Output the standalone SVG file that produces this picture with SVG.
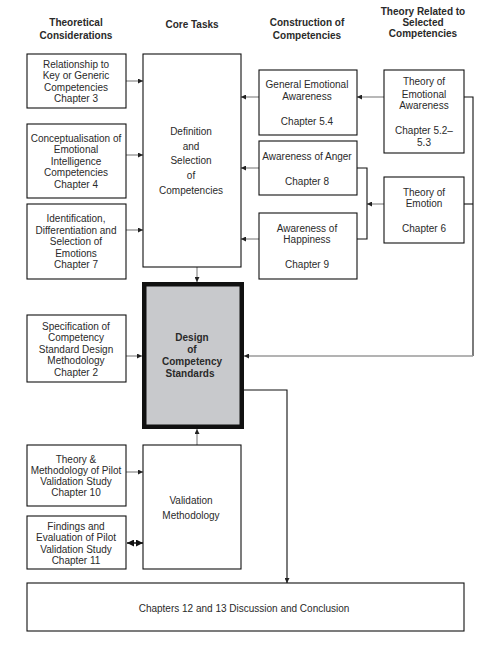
<svg xmlns="http://www.w3.org/2000/svg" width="496" height="649" viewBox="0 0 496 649">
<defs>
<style>
.box{fill:#fff;stroke:#111;stroke-width:1.1}
.t{font-family:"Liberation Sans",Arial,sans-serif;font-size:10px;fill:#2a2a2a;text-anchor:middle}
.h{font-family:"Liberation Sans",Arial,sans-serif;font-size:10px;font-weight:bold;fill:#2a2a2a;text-anchor:middle}
.g{fill:none;stroke:#9a9a9a;stroke-width:1.4}
.k{fill:none;stroke:#111;stroke-width:1.1}
</style>
<marker id="ah" viewBox="0 0 10 10" refX="10" refY="5" markerWidth="5" markerHeight="5" markerUnits="userSpaceOnUse" orient="auto">
<path d="M0,0 L10,5 L0,10 z" fill="#222"/>
</marker>
<marker id="ahb" viewBox="0 0 10 10" refX="10" refY="5" markerWidth="7" markerHeight="7" markerUnits="userSpaceOnUse" orient="auto-start-reverse">
<path d="M0,0 L10,5 L0,10 z" fill="#111"/>
</marker>
</defs>
<rect width="496" height="649" fill="#fff"/>

<g id="headers">
<text class="h" x="76" y="25.5">Theoretical</text>
<text class="h" x="76" y="38.5">Considerations</text>
<text class="h" x="192" y="27.5">Core Tasks</text>
<text class="h" x="307" y="25.5">Construction of</text>
<text class="h" x="307" y="38.5">Competencies</text>
<text class="h" x="423" y="14.5">Theory Related to</text>
<text class="h" x="423" y="25.5">Selected</text>
<text class="h" x="423" y="36.5">Competencies</text>
</g>

<g id="connectors">
<line class="g" x1="126" y1="81" x2="143" y2="81" marker-end="url(#ah)"/>
<line class="g" x1="126" y1="155" x2="143" y2="155" marker-end="url(#ah)"/>
<line class="g" x1="126" y1="230" x2="143" y2="230" marker-end="url(#ah)"/>
<line class="g" x1="259" y1="97" x2="241" y2="97" marker-end="url(#ah)"/>
<line class="g" x1="259" y1="168" x2="241" y2="168" marker-end="url(#ah)"/>
<line class="g" x1="259" y1="239" x2="241" y2="239" marker-end="url(#ah)"/>
<line class="g" x1="384" y1="97" x2="357" y2="97" marker-end="url(#ah)"/>
<line class="g" x1="384" y1="204" x2="367" y2="204" marker-end="url(#ah)"/>
<polyline class="k" points="357,168 367,168 367,239 357,239"/>
<polyline class="k" points="464,97 473,97 473,356"/>
<line class="k" x1="464" y1="204" x2="473" y2="204"/>
<line class="g" x1="473" y1="356" x2="244" y2="356" marker-end="url(#ah)"/>
<line class="g" x1="197" y1="267" x2="197" y2="282" marker-end="url(#ah)"/>
<line class="g" x1="126" y1="356" x2="142" y2="356" marker-end="url(#ah)"/>
<line class="g" x1="197" y1="445" x2="197" y2="429" marker-end="url(#ah)"/>
<polyline class="k" points="244,390 287,390 287,583" marker-end="url(#ah)"/>
<line class="g" x1="126" y1="472" x2="143" y2="472" marker-end="url(#ah)"/>
<line x1="127" y1="543" x2="143" y2="543" stroke="#111" stroke-width="1.5" marker-start="url(#ahb)" marker-end="url(#ahb)"/>
</g>

<g id="n-relationship">
<rect class="box" x="27" y="54" width="99" height="54"/>
<text class="t" x="76" y="67.5">Relationship to</text>
<text class="t" x="76" y="79">Key or Generic</text>
<text class="t" x="76" y="90.5">Competencies</text>
<text class="t" x="76" y="102">Chapter 3</text>
</g>
<g id="n-conceptualisation">
<rect class="box" x="27" y="124" width="99" height="74"/>
<text class="t" x="76" y="141.5">Conceptualisation of</text>
<text class="t" x="76" y="153">Emotional</text>
<text class="t" x="76" y="164.5">Intelligence</text>
<text class="t" x="76" y="176">Competencies</text>
<text class="t" x="76" y="187.5">Chapter 4</text>
</g>
<g id="n-identification">
<rect class="box" x="27" y="204" width="99" height="75"/>
<text class="t" x="76" y="222">Identification,</text>
<text class="t" x="76" y="233.5">Differentiation and</text>
<text class="t" x="76" y="245">Selection of</text>
<text class="t" x="76" y="256.5">Emotions</text>
<text class="t" x="76" y="268">Chapter 7</text>
</g>
<g id="n-specification">
<rect class="box" x="27" y="315" width="99" height="67"/>
<text class="t" x="76" y="329.5">Specification of</text>
<text class="t" x="76" y="340.5">Competency</text>
<text class="t" x="76" y="352.5">Standard Design</text>
<text class="t" x="76" y="363.5">Methodology</text>
<text class="t" x="76" y="375.5">Chapter 2</text>
</g>
<g id="n-theory-method">
<rect class="box" x="27" y="445" width="99" height="61"/>
<text class="t" x="76" y="462.5">Theory &amp;</text>
<text class="t" x="76" y="473.5">Methodology of Pilot</text>
<text class="t" x="76" y="484.5">Validation Study</text>
<text class="t" x="76" y="495.5">Chapter 10</text>
</g>
<g id="n-findings">
<rect class="box" x="27" y="516" width="99" height="53"/>
<text class="t" x="76" y="529.5">Findings and</text>
<text class="t" x="76" y="540.5">Evaluation of Pilot</text>
<text class="t" x="76" y="552.5">Validation Study</text>
<text class="t" x="76" y="563.5">Chapter 11</text>
</g>
<g id="n-definition">
<rect class="box" x="143" y="54" width="98" height="213"/>
<text class="t" x="191" y="134.5">Definition</text>
<text class="t" x="191" y="149.5">and</text>
<text class="t" x="191" y="163.5">Selection</text>
<text class="t" x="191" y="178.5">of</text>
<text class="t" x="191" y="193.5">Competencies</text>
</g>
<g id="n-design">
<rect x="144.25" y="284.25" width="97.5" height="142.5" fill="#c8c9cc" stroke="#111" stroke-width="4.5"/>
<text class="h" x="192" y="340.5">Design</text>
<text class="h" x="192" y="352.5">of</text>
<text class="h" x="192" y="364.5">Competency</text>
<text class="h" x="190" y="376.5">Standards</text>
</g>
<g id="n-validation">
<rect class="box" x="143" y="445" width="98" height="124"/>
<text class="t" x="191" y="503.5">Validation</text>
<text class="t" x="191" y="518.5">Methodology</text>
</g>
<g id="n-general">
<rect class="box" x="259" y="70" width="98" height="65"/>
<text class="t" x="307" y="87.5">General Emotional</text>
<text class="t" x="307" y="99.5">Awareness</text>
<text class="t" x="307" y="124.5">Chapter 5.4</text>
</g>
<g id="n-anger">
<rect class="box" x="259" y="141" width="98" height="54"/>
<text class="t" x="307" y="159.5">Awareness of Anger</text>
<text class="t" x="307" y="184.5">Chapter 8</text>
</g>
<g id="n-happiness">
<rect class="box" x="259" y="213" width="98" height="66"/>
<text class="t" x="307" y="231.5">Awareness of</text>
<text class="t" x="307" y="242.5">Happiness</text>
<text class="t" x="307" y="267.5">Chapter 9</text>
</g>
<g id="n-theory-ea">
<rect class="box" x="384" y="70" width="80" height="83"/>
<text class="t" x="424" y="84.5">Theory of</text>
<text class="t" x="424" y="97.5">Emotional</text>
<text class="t" x="424" y="108.5">Awareness</text>
<text class="t" x="424" y="133.5">Chapter 5.2–</text>
<text class="t" x="424" y="145.5">5.3</text>
</g>
<g id="n-theory-emotion">
<rect class="box" x="384" y="177" width="80" height="66"/>
<text class="t" x="424" y="195.5">Theory of</text>
<text class="t" x="424" y="206.5">Emotion</text>
<text class="t" x="424" y="231.5">Chapter 6</text>
</g>
<g id="n-chapters">
<rect class="box" x="27" y="583" width="437" height="48"/>
<text class="t" x="244" y="611.5">Chapters 12 and 13 Discussion and Conclusion</text>
</g>
</svg>
